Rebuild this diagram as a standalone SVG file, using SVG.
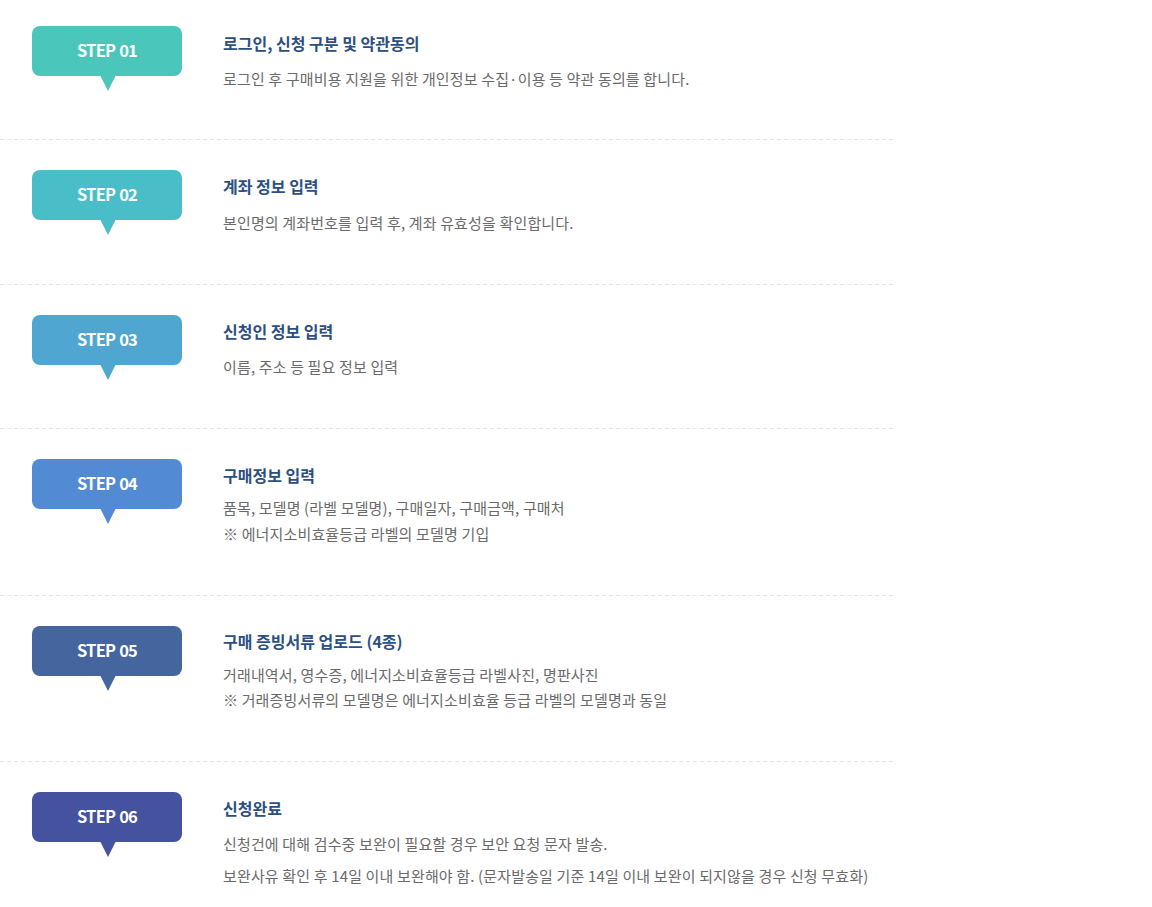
<svg xmlns="http://www.w3.org/2000/svg" xmlns:xlink="http://www.w3.org/1999/xlink" width="1152" height="907" viewBox="0 0 1152 907">
<style>
.bg{fill:#ffffff}
.sep{stroke:#e6e6e6;stroke-width:1;stroke-dasharray:4 3;fill:none}
.badge{font-family:"Noto Sans CJK KR","Liberation Sans",sans-serif;font-weight:700;font-size:16.5px;fill:#ffffff;text-anchor:middle;letter-spacing:-0.8px;word-spacing:1px}
.title{font-family:"Noto Sans CJK KR","Liberation Sans",sans-serif;font-weight:700;font-size:16px;fill:#2c4f82}
.desc{font-family:"Noto Sans CJK KR","Liberation Sans",sans-serif;font-size:15px;fill:#6a6a6a;letter-spacing:0.15px}
</style>
<defs>
<g id="bubble">
<rect x="32" y="0" width="150" height="50" rx="8" ry="8"/>
<polygon points="100,49 116,49 108,65"/>
</g>
</defs>
<rect class="bg" x="0" y="0" width="1152" height="907"/>
<g id="separators">
<line class="sep" x1="0" y1="139.5" x2="896" y2="139.5"/>
<line class="sep" x1="0" y1="284.5" x2="896" y2="284.5"/>
<line class="sep" x1="0" y1="428.5" x2="896" y2="428.5"/>
<line class="sep" x1="0" y1="595.5" x2="896" y2="595.5"/>
<line class="sep" x1="0" y1="761.5" x2="896" y2="761.5"/>
</g>
<g id="step01">
<use xlink:href="#bubble" y="26" fill="#4ac6ba"/>
<text class="badge" x="107" y="57">STEP 01</text>
<text class="title" x="223" y="50">로그인, 신청 구분 및 약관동의</text>
<text class="desc" x="223" y="85">로그인 후 구매비용 지원을 위한 개인정보 수집·이용 등 약관 동의를 합니다.</text>
</g>
<g id="step02">
<use xlink:href="#bubble" y="170" fill="#49bec8"/>
<text class="badge" x="107" y="201">STEP 02</text>
<text class="title" x="223" y="193">계좌 정보 입력</text>
<text class="desc" x="223" y="229">본인명의 계좌번호를 입력 후, 계좌 유효성을 확인합니다.</text>
</g>
<g id="step03">
<use xlink:href="#bubble" y="315" fill="#4fa6d1"/>
<text class="badge" x="107" y="346">STEP 03</text>
<text class="title" x="223" y="338">신청인 정보 입력</text>
<text class="desc" x="223" y="373">이름, 주소 등 필요 정보 입력</text>
</g>
<g id="step04">
<use xlink:href="#bubble" y="459" fill="#528bd4"/>
<text class="badge" x="107" y="490">STEP 04</text>
<text class="title" x="223" y="482">구매정보 입력</text>
<text class="desc" x="223" y="514">품목, 모델명 (라벨 모델명), 구매일자, 구매금액, 구매처</text>
<text class="desc" x="223" y="540">※ 에너지소비효율등급 라벨의 모델명 기입</text>
</g>
<g id="step05">
<use xlink:href="#bubble" y="626" fill="#45659f"/>
<text class="badge" x="107" y="657">STEP 05</text>
<text class="title" x="223" y="648">구매 증빙서류 업로드 (4종)</text>
<text class="desc" x="223" y="681">거래내역서, 영수증, 에너지소비효율등급 라벨사진, 명판사진</text>
<text class="desc" x="223" y="706">※ 거래증빙서류의 모델명은 에너지소비효율 등급 라벨의 모델명과 동일</text>
</g>
<g id="step06">
<use xlink:href="#bubble" y="792" fill="#44529f"/>
<text class="badge" x="107" y="823">STEP 06</text>
<text class="title" x="223" y="815">신청완료</text>
<text class="desc" x="223" y="850">신청건에 대해 검수중 보완이 필요할 경우 보안 요청 문자 발송.</text>
<text class="desc" x="223" y="882">보완사유 확인 후 14일 이내 보완해야 함. (문자발송일 기준 14일 이내 보완이 되지않을 경우 신청 무효화)</text>
</g>
</svg>
